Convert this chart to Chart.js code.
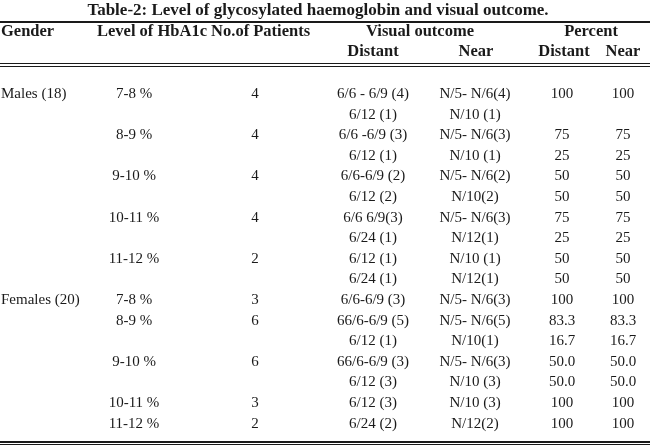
<!DOCTYPE html>
<html>
<head>
<meta charset="utf-8">
<script src="https://cdn.jsdelivr.net/npm/chart.js@4"></script>
<style>
  body { margin: 0; background: #fff; }
  canvas { display: block; }
</style>
</head>
<body>
<canvas id="tbl" width="650" height="446"></canvas>
<script>
// table contents, one entry per row
var genders = ["Males (18)", "", "", "", "", "", "", "", "", "", "Females (20)", "", "", "", "", "", ""];
var levels = ["7-8 %", "", "8-9 %", "", "9-10 %", "", "10-11 %", "", "11-12 %", "", "7-8 %", "8-9 %", "", "9-10 %", "", "10-11 %", "11-12 %"];
var patients = ["4", "", "4", "", "4", "", "4", "", "2", "", "3", "6", "", "6", "", "3", "2"];
var distant = ["6/6 - 6/9 (4)", "6/12 (1)", "6/6 -6/9 (3)", "6/12 (1)", "6/6-6/9 (2)", "6/12 (2)", "6/6 6/9(3)", "6/24 (1)", "6/12 (1)", "6/24 (1)",
               "6/6-6/9 (3)", "66/6-6/9 (5)", "6/12 (1)", "66/6-6/9 (3)", "6/12 (3)", "6/12 (3)", "6/24 (2)"];
var near = ["N/5- N/6(4)", "N/10 (1)", "N/5- N/6(3)", "N/10 (1)", "N/5- N/6(2)", "N/10(2)", "N/5- N/6(3)", "N/12(1)", "N/10 (1)", "N/12(1)",
            "N/5- N/6(3)", "N/5- N/6(5)", "N/10(1)", "N/5- N/6(3)", "N/10 (3)", "N/10 (3)", "N/12(2)"];
var pctDistant = ["100", "", "75", "25", "50", "50", "75", "25", "50", "50", "100", "83.3", "16.7", "50.0", "50.0", "100", "100"];
var pctNear = ["100", "", "75", "25", "50", "50", "75", "25", "50", "50", "100", "83.3", "16.7", "50.0", "50.0", "100", "100"];

var title = "Table-2: Level of glycosylated haemoglobin and visual outcome.";

var firstRowY = 94, rowStep = 20.6;

var tablePlugin = {
  id: "tablePlugin",
  afterDraw: function (chart) {
    var ctx = chart.ctx, sx = chart.scales.x, sy = chart.scales.y;
    function X(v) { return sx.getPixelForValue(v); }
    function Y(v) { return sy.getPixelForValue(v); }
    function text(s, x, y, align, size, bold) {
      ctx.font = (bold ? "bold " : "") + size + "px 'Liberation Serif', 'Times New Roman', serif";
      ctx.textAlign = align;
      ctx.textBaseline = "middle";
      ctx.fillStyle = "#1a1a1a";
      ctx.fillText(s, X(x), Y(y));
    }
    function rule(y, w) {
      ctx.fillStyle = "#1a1a1a";
      ctx.fillRect(X(0), Y(y), X(650) - X(0), w);
    }
    ctx.save();
    text(title, 318, 11, "center", 17, true);
    rule(21, 2);
    text("Gender", 1, 32, "left", 16.5, true);
    text("Level of HbA1c No.of Patients", 97, 32, "left", 16.5, true);
    text("Visual outcome", 420, 32, "center", 16.5, true);
    text("Percent", 591, 32, "center", 16.5, true);
    text("Distant", 373, 52, "center", 16.5, true);
    text("Near", 476, 52, "center", 16.5, true);
    text("Distant", 564, 52, "center", 16.5, true);
    text("Near", 623, 52, "center", 16.5, true);
    rule(63, 1);
    rule(66, 1);
    for (var i = 0; i < distant.length; i++) {
      var y = firstRowY + i * rowStep;
      text(genders[i], 1, y, "left", 15);
      text(levels[i], 134, y, "center", 15);
      text(patients[i], 255, y, "center", 15);
      text(distant[i], 373, y, "center", 15);
      text(near[i], 475, y, "center", 15);
      text(pctDistant[i], 562, y, "center", 15);
      text(pctNear[i], 623, y, "center", 15);
    }
    rule(441, 2);
    rule(444, 1);
    ctx.restore();
  }
};

new Chart(document.getElementById("tbl"), {
  type: "scatter",
  data: { datasets: [{ data: [] }] },
  options: {
    responsive: false,
    animation: false,
    devicePixelRatio: 1,
    layout: { padding: 0 },
    plugins: { legend: { display: false }, tooltip: { enabled: false } },
    scales: {
      x: { type: "linear", min: 0, max: 650, display: false },
      y: { type: "linear", min: 0, max: 446, reverse: true, display: false }
    }
  },
  plugins: [tablePlugin]
});
</script>
</body>
</html>
